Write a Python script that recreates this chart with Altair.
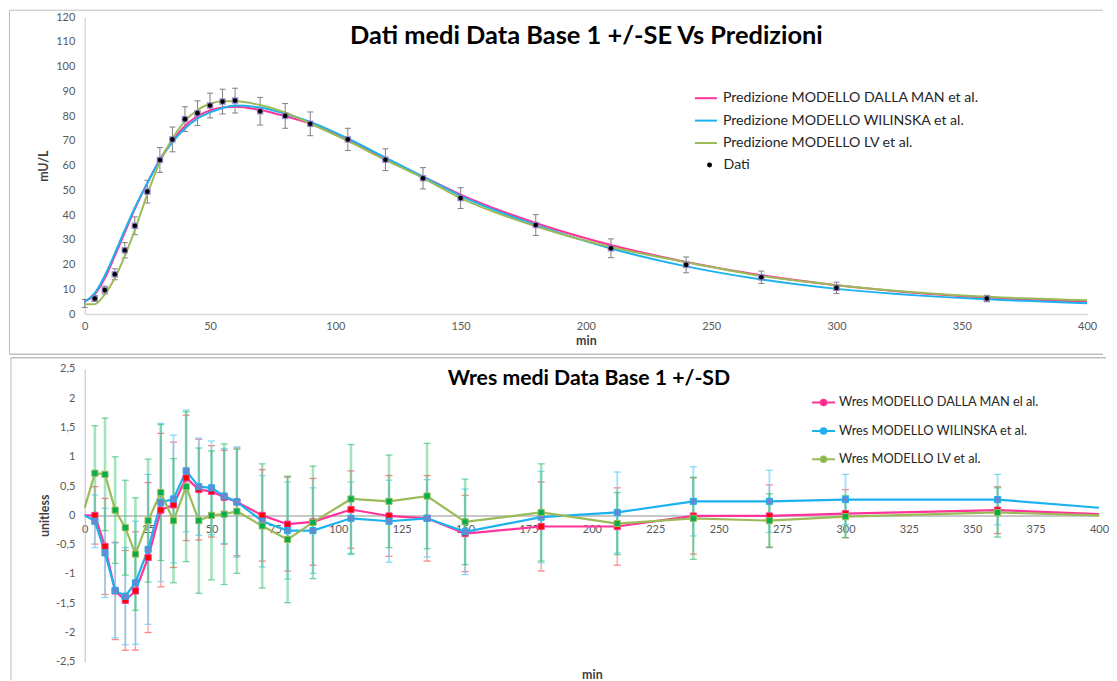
import altair as alt
import pandas as pd

# ---------------- data: top panel (mean data +/- SE and model predictions)
data_t = [0, 4, 8, 12, 16, 20, 25, 30, 35, 40, 45, 50, 55, 60, 70, 80, 90, 105, 120, 135, 150, 180, 210, 240, 270, 300, 360]
data_v = [4.3, 6.3, 9.7, 16.1, 25.8, 35.7, 49.5, 62.3, 70.6, 78.8, 81.2, 84.3, 85.9, 86.3, 82.0, 80.1, 76.9, 70.6, 62.4, 54.9, 46.9, 36.0, 26.6, 19.9, 14.9, 10.6, 6.3]
data_se = [1.6, 1.2, 1.6, 2.2, 3.1, 3.6, 4.6, 5.0, 5.0, 5.0, 5.0, 5.0, 5.0, 5.0, 5.6, 5.0, 4.8, 4.5, 4.4, 4.3, 4.2, 4.2, 3.8, 3.2, 2.5, 2.3, 1.3]

model_t = [0, 4, 8, 12, 16, 20, 25, 30, 35, 40, 45, 50, 55, 60, 70, 80, 90, 105, 120, 135, 150, 180, 210, 240, 270, 300, 360, 400]
dm_pred = [5.0, 8.0, 14.5, 23.5, 33.0, 42.5, 53.0, 62.5, 70.0, 76.0, 80.0, 82.3, 83.5, 83.8, 82.5, 80.0, 77.0, 70.6, 62.8, 55.6, 48.3, 36.8, 27.9, 21.1, 15.7, 11.7, 6.7, 5.1]
wil_pred = [5.0, 8.5, 15.5, 24.5, 34.0, 43.0, 53.0, 62.3, 69.5, 75.0, 79.0, 81.5, 83.3, 84.3, 83.5, 81.0, 77.7, 71.0, 63.2, 55.6, 47.8, 36.0, 26.5, 19.3, 14.0, 10.2, 6.0, 4.4]
lv_pred = [4.0, 4.0, 8.0, 14.5, 23.5, 34.0, 48.5, 61.5, 71.0, 78.0, 82.5, 85.0, 86.0, 86.0, 84.5, 81.5, 77.0, 70.0, 62.3, 55.0, 46.9, 35.5, 27.1, 21.0, 15.4, 11.7, 7.0, 5.6]

pred_names = ["Predizione MODELLO DALLA MAN et al.",
              "Predizione MODELLO WILINSKA et al.",
              "Predizione MODELLO LV et al."]
pred_colors = ["#FF3399", "#1CB2F0", "#9BBB59"]

# ---------------- data: bottom panel (mean weighted residuals +/- SD)
wres_t = [0, 4, 8, 12, 16, 20, 25, 30, 35, 40, 45, 50, 55, 60, 70, 80, 90, 105, 120, 135, 150, 180, 210, 240, 270, 300, 360, 400]
dm_wres = [0.0, 0.0, -0.53, -1.29, -1.45, -1.29, -0.72, 0.09, 0.18, 0.64, 0.44, 0.41, 0.31, 0.23, 0.0, -0.15, -0.11, 0.10, -0.01, -0.05, -0.31, -0.19, -0.19, -0.01, -0.01, 0.03, 0.09, 0.02]
wil_wres = [0.0, -0.10, -0.64, -1.28, -1.38, -1.15, -0.58, 0.22, 0.28, 0.76, 0.49, 0.47, 0.33, 0.23, -0.10, -0.26, -0.26, -0.05, -0.10, -0.05, -0.28, -0.03, 0.05, 0.24, 0.24, 0.27, 0.27, 0.13]
lv_wres = [0.13, 0.72, 0.70, 0.09, -0.21, -0.66, -0.09, 0.39, -0.09, 0.49, -0.09, 0.0, 0.02, 0.07, -0.18, -0.41, -0.12, 0.28, 0.24, 0.33, -0.11, 0.05, -0.14, -0.05, -0.09, -0.02, 0.05, 0.0]

sd_t = [4, 8, 12, 16, 20, 25, 30, 35, 40, 45, 50, 55, 60, 70, 80, 90, 105, 120, 135, 150, 180, 210, 240, 270, 300, 360]
dm_sd = [0.49, 0.82, 0.83, 0.85, 1.01, 1.28, 1.31, 1.07, 1.07, 0.86, 0.78, 0.80, 0.92, 0.78, 0.80, 0.74, 0.66, 0.69, 0.73, 0.65, 0.76, 0.66, 0.65, 0.53, 0.41, 0.40]
wil_sd = [0.45, 0.76, 0.81, 0.83, 1.05, 1.28, 1.35, 1.09, 1.04, 0.83, 0.80, 0.81, 0.94, 0.78, 0.83, 0.73, 0.62, 0.70, 0.66, 0.73, 0.78, 0.69, 0.59, 0.53, 0.43, 0.43]
lv_sd = [0.81, 0.96, 0.91, 0.81, 0.96, 1.05, 1.16, 1.06, 1.28, 1.24, 1.10, 1.20, 1.06, 1.06, 1.08, 0.96, 0.93, 0.79, 0.90, 0.73, 0.83, 0.53, 0.70, 0.46, 0.36, 0.42]

wres_names = ["Wres MODELLO DALLA MAN el al.",
              "Wres MODELLO WILINSKA et al.",
              "Wres MODELLO LV et al."]
wres_line_colors = ["#FF3399", "#1CB2F0", "#9BBB59"]
wres_marker_colors = ["#FF0000", "#6E87CC", "#00B050"]
bar_colors = ["#FF7C80", "#6FD0F5", "#33C070"]
bar_widths = [1.3, 2.0, 2.6]
bar_opacity = [0.75, 0.6, 0.45]

top_x_ticks = [0, 50, 100, 150, 200, 250, 300, 350, 400]
top_y_ticks = [0, 10, 20, 30, 40, 50, 60, 70, 80, 90, 100, 110, 120]
bot_x_ticks = [0, 25, 50, 75, 100, 125, 150, 175, 200, 225, 250, 275, 300, 325, 350, 375, 400]
bot_y_ticks = [-2.5, -2, -1.5, -1, -0.5, 0, 0.5, 1, 1.5, 2, 2.5]

FONT = "Lato"
LABEL_COLOR = "#595959"

# ---------------- frames
obs = pd.DataFrame({"t": data_t, "v": data_v})
obs["lo"] = obs["v"] - pd.Series(data_se)
obs["hi"] = obs["v"] + pd.Series(data_se)
obs["lab"] = "Dati"

pred = pd.concat([
    pd.DataFrame({"t": model_t, "v": vals, "serie": name})
    for vals, name in zip([dm_pred, wil_pred, lv_pred], pred_names)
], ignore_index=True)

wres_series = [pd.DataFrame({"t": wres_t, "v": vals, "serie": name})
               for vals, name in zip([dm_wres, wil_wres, lv_wres], wres_names)]
wres = pd.concat(wres_series, ignore_index=True)

bars = []
for vals, sds, name in zip([dm_wres, wil_wres, lv_wres], [dm_sd, wil_sd, lv_sd], wres_names):
    lookup = dict(zip(wres_t, vals))
    df = pd.DataFrame({"t": sd_t, "sd": sds})
    df["v"] = [lookup[t] for t in sd_t]
    df["lo"] = df["v"] - df["sd"]
    df["hi"] = df["v"] + df["sd"]
    bars.append(df)

one = alt.Data(values=[{}])

# ================= TOP PANEL
TW, TH = 1006, 298
xs_top = alt.Scale(domain=[0, 400], nice=False)
ys_top = alt.Scale(domain=[0, 120], nice=False)
x_top = alt.X("t:Q", scale=xs_top, axis=alt.Axis(
    values=top_x_ticks, title="min", labelFlush=False, labelPadding=6,
    titlePadding=3, domainColor="#D9D9D9", domainWidth=1.5))
y_top_axis = alt.Axis(values=top_y_ticks, title="mU/L", labelPadding=10,
                      titleX=-41, titleY=TH / 2, titleBaseline="middle",
                      domainColor="#D9D9D9", domainWidth=1.5)

frame_top = alt.layer(
    alt.Chart(one).mark_rule(color="#BFBFBF", strokeWidth=1).encode(
        x=alt.value(-75.5), x2=alt.value(1022), y=alt.value(-7.0)),
    alt.Chart(one).mark_rule(color="#BFBFBF", strokeWidth=1).encode(
        x=alt.value(-75.5), y=alt.value(-7.0), y2=alt.value(338.3)),
    alt.Chart(one).mark_rule(color="#BFBFBF", strokeWidth=1.5).encode(
        x=alt.value(-75.5), x2=alt.value(1022), y=alt.value(338.3)),
)

err_top = alt.Chart(obs).mark_rule(color="#7F7F7F", strokeWidth=1).encode(
    x=x_top, y=alt.Y("lo:Q", scale=ys_top, axis=y_top_axis), y2="hi:Q")
cap_lo = alt.Chart(obs).mark_tick(orient="horizontal", size=6, thickness=1,
                                  color="#7F7F7F", opacity=1).encode(
    x=x_top, y=alt.Y("lo:Q", scale=ys_top, axis=y_top_axis))
cap_hi = alt.Chart(obs).mark_tick(orient="horizontal", size=6, thickness=1,
                                  color="#7F7F7F", opacity=1).encode(
    x=x_top, y=alt.Y("hi:Q", scale=ys_top, axis=y_top_axis))

lines_top = alt.Chart(pred).mark_line(strokeWidth=2, interpolate="monotone").encode(
    x=x_top,
    y=alt.Y("v:Q", scale=ys_top, axis=y_top_axis),
    stroke=alt.Stroke("serie:N", scale=alt.Scale(domain=pred_names, range=pred_colors),
                      legend=alt.Legend(orient="none", legendX=611.5, legendY=69.3,
                                        title=None, symbolType="stroke", symbolSize=484,
                                        symbolStrokeWidth=2, rowPadding=2.5, labelOffset=5,
                                        labelFontSize=14.2, labelFont=FONT, labelColor="#262626",
                                        labelLimit=400)),
    detail="serie:N",
)

sq_top = alt.Chart(obs).transform_filter("datum.t > 0").mark_square(
    size=42, color="#8E7CC3", opacity=0.9).encode(
    x=x_top, y=alt.Y("v:Q", scale=ys_top, axis=y_top_axis))
dots_top = alt.Chart(obs).transform_filter("datum.t > 0").mark_point(
    filled=True, size=22, color="black", opacity=1).encode(
    x=x_top, y=alt.Y("v:Q", scale=ys_top, axis=y_top_axis),
    shape=alt.Shape("lab:N", scale=alt.Scale(domain=["Dati"], range=["circle"]),
                    legend=alt.Legend(orient="none", legendX=620, legendY=141.3, title=None,
                                      symbolSize=25, symbolFillColor="black",
                                      symbolStrokeColor="black", labelOffset=7,
                                      labelFontSize=14.2, labelFont=FONT, labelColor="#262626")))

title_top = alt.Chart(one).mark_text(
    text="Dati medi Data Base 1 +/-SE Vs Predizioni", font=FONT, fontSize=25.5,
    fontWeight="bold", color="black", align="center", baseline="middle").encode(
    x=alt.value(503.5), y=alt.value(19.0))

top = alt.layer(frame_top, err_top, cap_lo, cap_hi, lines_top, sq_top, dots_top, title_top).properties(
    width=TW, height=TH)

# ================= BOTTOM PANEL
BW, BH = 1018, 294
xs_bot = alt.Scale(domain=[0, 400], nice=False)
ys_bot = alt.Scale(domain=[-2.5, 2.5], nice=False)
x_bot = alt.X("t:Q", scale=xs_bot, axis=alt.Axis(
    values=bot_x_ticks, title="min", labelFlush=False, labelPadding=8, offset=-BH / 2,
    titleY=BH / 2 + 12.5, titleBaseline="middle", domainColor="#C8C8C8", domainWidth=2))
y_bot_axis = alt.Axis(values=bot_y_ticks, title="unitless", labelPadding=10,
                      labelExpr="replace(toString(datum.value), '.', ',')",
                      titleX=-40, titleY=BH / 2, titleBaseline="middle",
                      domainColor="#BFBFBF", domainWidth=1)

frame_bot = alt.layer(
    alt.Chart(one).mark_rule(color="#BFBFBF", strokeWidth=1.5).encode(
        x=alt.value(-74), x2=alt.value(1025), y=alt.value(-11.3)),
    alt.Chart(one).mark_rule(color="#BFBFBF", strokeWidth=1).encode(
        x=alt.value(-74), y=alt.value(-11.3), y2=alt.value(312.7)),
)

bar_layers = []
for df, col, w, op in zip(bars, bar_colors, bar_widths, bar_opacity):
    bar_layers.append(alt.Chart(df).mark_rule(color=col, strokeWidth=w, opacity=op).encode(
        x=x_bot, y=alt.Y("lo:Q", scale=ys_bot, axis=y_bot_axis), y2="hi:Q"))
    for fld in ["lo", "hi"]:
        bar_layers.append(alt.Chart(df).mark_tick(orient="horizontal", size=7, thickness=1.3,
                                                  color=col, opacity=min(1, op + 0.2)).encode(
            x=x_bot, y=alt.Y(f"{fld}:Q", scale=ys_bot, axis=y_bot_axis)))

wleg = alt.Legend(orient="none", legendX=729, legendY=21.2, title=None,
                  symbolType="M-1,0L1,0M-0.24,0A0.24,0.24,0,1,0,0.24,0A0.24,0.24,0,1,0,-0.24,0Z",
                  symbolSize=529, symbolStrokeWidth=2, symbolOpacity=1, rowPadding=8.5,
                  labelOffset=3, labelFontSize=12.8, labelFont=FONT, labelColor="#262626",
                  labelLimit=400)

stroke_scale = alt.Scale(domain=wres_names, range=wres_line_colors)
fill_scale = alt.Scale(domain=wres_names, range=wres_marker_colors)

line_layers = []
for df, col in zip(wres_series, wres_line_colors):
    line_layers.append(alt.Chart(df).mark_line(strokeWidth=2.2, color=col).encode(
        x=x_bot, y=alt.Y("v:Q", scale=ys_bot, axis=y_bot_axis)))

marks_bot = alt.Chart(wres).transform_filter("datum.t > 0 && datum.t < 400").mark_point(
    shape="square", filled=True, size=38, opacity=1, strokeWidth=1).encode(
    x=x_bot,
    y=alt.Y("v:Q", scale=ys_bot, axis=y_bot_axis),
    fill=alt.Fill("serie:N", scale=fill_scale, legend=wleg),
    stroke=alt.Stroke("serie:N", scale=stroke_scale, legend=wleg),
)

title_bot = alt.Chart(one).mark_text(
    text="Wres medi Data Base 1 +/-SD", font=FONT, fontSize=21.3,
    fontWeight="bold", color="black", align="center", baseline="middle").encode(
    x=alt.value(506), y=alt.value(9.7))

bottom = alt.layer(frame_bot, *bar_layers, *line_layers, marks_bot, title_bot).properties(
    width=BW, height=BH)

chart = alt.vconcat(top, bottom, spacing=0).resolve_scale(
    stroke="independent", fill="independent", shape="independent", color="independent"
).resolve_legend(
    stroke="independent", fill="independent", shape="independent", color="independent"
).properties(
    padding=0, background="white"
).configure_view(stroke=None).configure_axis(
    grid=False, ticks=False, labelFont=FONT, labelFontSize=11, labelColor=LABEL_COLOR,
    titleFont=FONT, titleFontSize=12.5, titleFontWeight="bold", titleColor="#404040"
)

chart.save("out.html", embed_options={"renderer": "svg", "actions": False})
